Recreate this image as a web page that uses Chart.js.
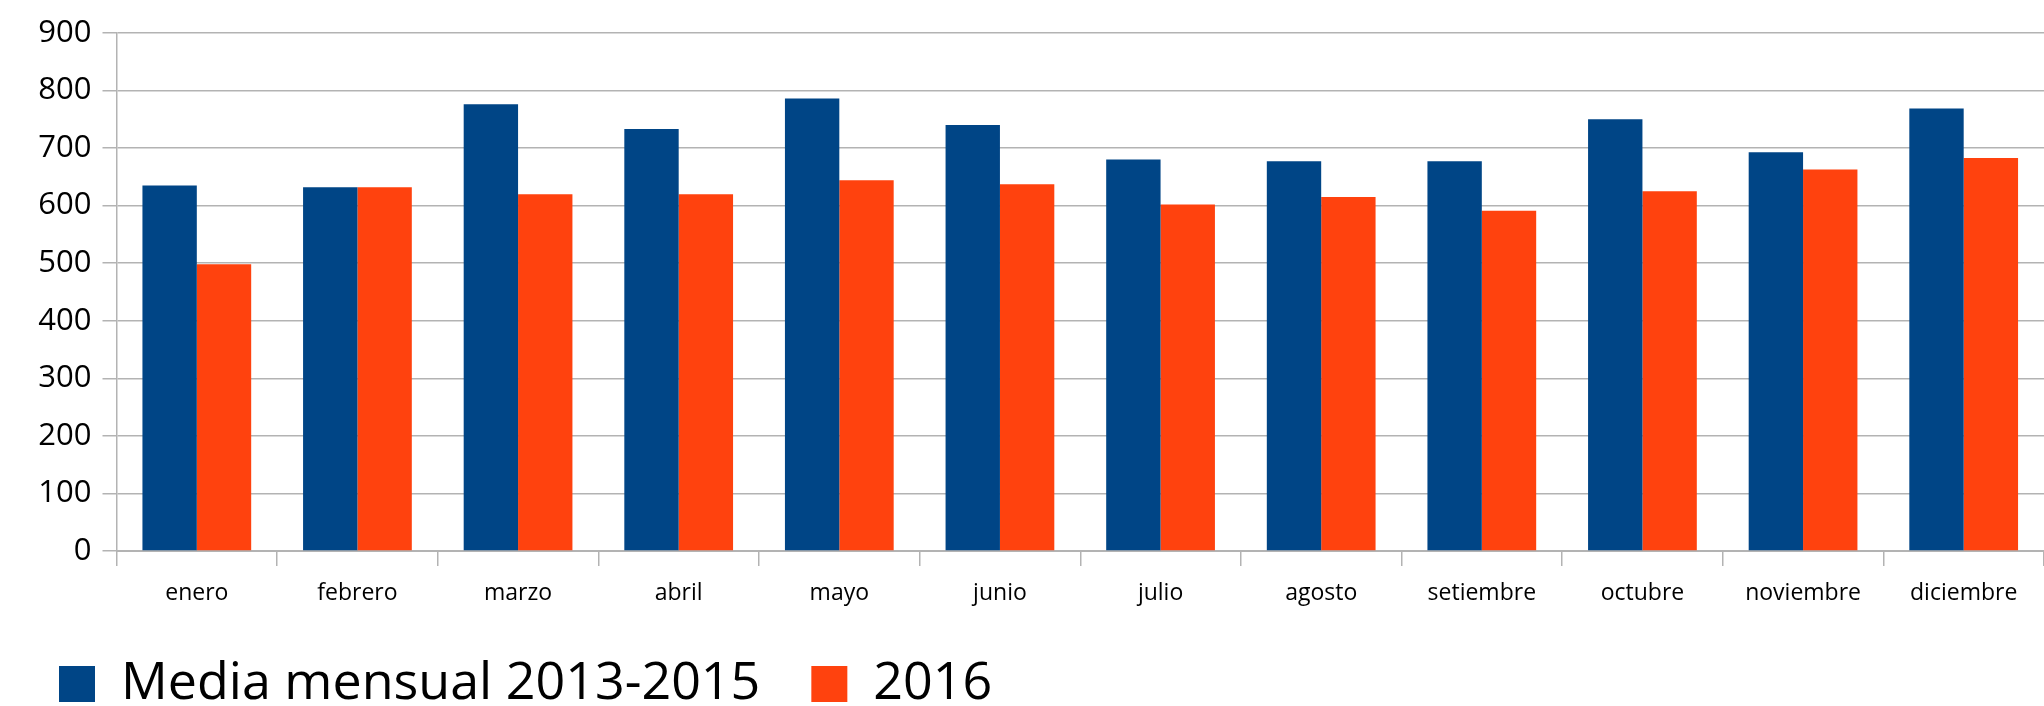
<!DOCTYPE html>
<html>
<head>
<meta charset="utf-8">
<title>Media mensual</title>
<script src="https://cdn.jsdelivr.net/npm/chart.js@4/dist/chart.umd.min.js"></script>
<style>
    html, body { margin: 0; padding: 0; background: #fff; }
    canvas { display: block; }
</style>
</head>
<body>
<canvas id="myChart" width="2044" height="706"></canvas>
<script>
// datos
const meses = ['enero', 'febrero', 'marzo', 'abril', 'mayo', 'junio', 'julio',
    'agosto', 'setiembre', 'octubre', 'noviembre', 'diciembre'];
const media_2013_2015 = [635, 632, 776, 733, 786, 740, 680, 677, 677, 750, 693, 769];
const valores_2016 = [498, 632, 620, 620, 644, 637, 602, 615, 591, 625, 663, 683];
const ticks_y = [0, 100, 200, 300, 400, 500, 600, 700, 800, 900];

const azul = '#004586';
const naranja = '#ff420e';
const gris = '#b3b3b3';
const fuente = 'Open Sans';

// altura fija de la leyenda (la de Chart.js sale demasiado alta con el padding)
const legendHeight = {
    id: 'legendHeight',
    beforeLayout: function (chart) {
        const legend = chart.legend;
        if (legend && !legend._patched) {
            const fit = legend.fit;
            legend.fit = function () {
                fit.call(this);
                this.height = 99;
            };
            legend._patched = true;
        }
    }
};

const ctx = document.getElementById('myChart').getContext('2d');
const myChart = new Chart(ctx, {
    type: 'bar',
    data: {
        labels: meses,
        datasets: [{
            label: 'Media mensual 2013-2015',
            data: media_2013_2015,
            backgroundColor: azul,
            borderWidth: 0
        }, {
            label: '2016',
            data: valores_2016,
            backgroundColor: naranja,
            borderWidth: 0
        }]
    },
    options: {
        responsive: false,
        animation: false,
        layout: {
            padding: { top: 33, left: 8, right: 0, bottom: 0 }
        },
        datasets: {
            bar: {
                categoryPercentage: 0.677,
                barPercentage: 1.0
            }
        },
        scales: {
            x: {
                grid: {
                    offset: true,
                    drawOnChartArea: false,
                    tickLength: 15,
                    color: gris,
                    lineWidth: 1.5
                },
                border: { display: true, color: gris, width: 2 },
                ticks: {
                    color: '#000',
                    padding: 14,
                    font: { family: fuente, size: 23 }
                },
                afterFit: function (scale) {
                    scale.height = 56;
                }
            },
            y: {
                min: 0,
                max: 900,
                afterBuildTicks: function (scale) {
                    scale.ticks = ticks_y.map(v => ({ value: v }));
                },
                grid: {
                    tickLength: 14,
                    color: gris,
                    lineWidth: 1.5
                },
                border: { display: true, color: gris, width: 1.5 },
                ticks: {
                    color: '#000',
                    padding: 11,
                    font: { family: fuente, size: 31 }
                },
                afterFit: function (scale) {
                    scale.width = 108.5;
                }
            }
        },
        plugins: {
            legend: {
                position: 'bottom',
                align: 'start',
                labels: {
                    color: '#000',
                    boxWidth: 36,
                    boxHeight: 36,
                    padding: 51,
                    font: { family: fuente, size: 52 }
                }
            },
            tooltip: { enabled: false }
        }
    },
    plugins: [legendHeight]
});
</script>
</body>
</html>
